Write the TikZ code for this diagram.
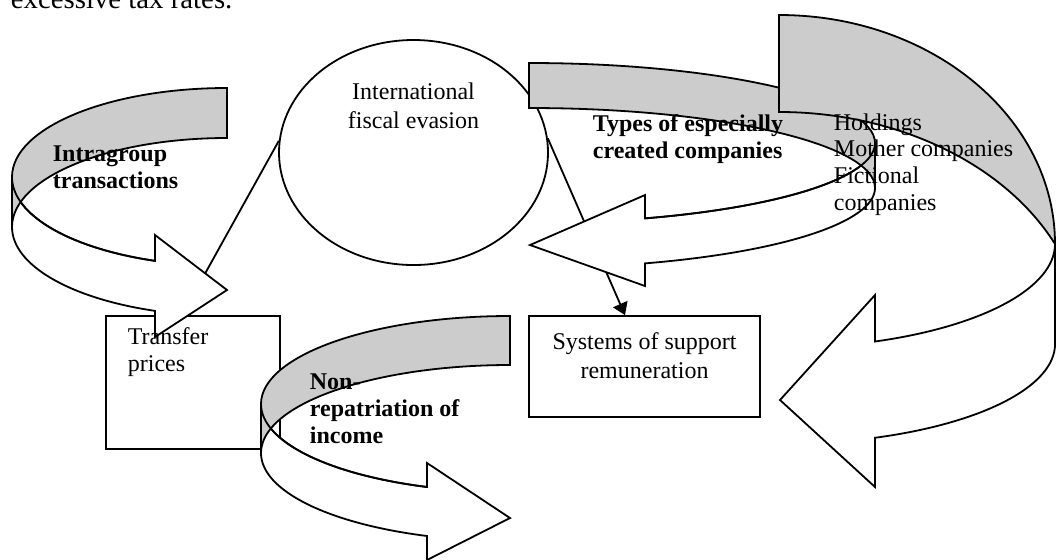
\documentclass[tikz,border=0pt]{standalone}
\usepackage{fontspec}
\setmainfont{Liberation Serif}
\usetikzlibrary{arrows.meta,shapes.geometric}
\definecolor{bandgray}{gray}{0.8}
\newcommand\pxs{0.4167pt}
\begin{document}
\begin{tikzpicture}[x=0.4167pt, y=-0.4167pt, line width=0.75pt,
  frontband/.style={draw=black, fill=white, line join=miter},
  backband/.style={draw=black, fill=bandgray, line join=miter},
  lbl/.style={font=\fontsize{10}{11.1}\selectfont, inner sep=0pt, align=left, anchor=base west},
  blbl/.style={lbl, font=\fontsize{10}{11.1}\selectfont\bfseries},
  boxshape/.style={draw=black, rectangle, inner sep=0pt},
  conn/.style={draw=black, line width=0.75pt}]
\useasboundingbox (0,0) rectangle (1056,559);

\node[anchor=base west, inner sep=0pt, font=\fontsize{12}{14}\selectfont] (bodytext) at (10,8) {excessive tax rates.};

% main shapes
\node[draw=black, ellipse, minimum width=269*\pxs, minimum height=225*\pxs, inner sep=0pt] (ife) at (413.5,152.5) {};
\node[boxshape, minimum width=174*\pxs, minimum height=133*\pxs] (tp) at (193,382.5) {};
\node[boxshape, minimum width=231*\pxs, minimum height=101*\pxs] (srs) at (644.5,366.5) {};

% connectors
\draw[conn] (ife.175) -- ([xshift=-11*\pxs]tp.north);
\draw[conn, -{Triangle[length=5pt, width=6.5pt]}] (ife.6) -- ([xshift=-19.5*\pxs]srs.north);

% Intragroup transactions arrow
\draw[frontband] (12,177) arc[start angle=180, end angle=109.57, x radius=215, y radius=89]
  -- (155,235) -- (227,290) -- (155,337) -- (155,310.86)
  arc[start angle=109.57, end angle=180, x radius=215, y radius=89] -- cycle;
\draw[backband] (12,177) arc[start angle=180, end angle=270, x radius=215, y radius=89]
  -- (227,138) arc[start angle=270, end angle=180, x radius=215, y radius=89] -- cycle;
\draw (12,177) arc[start angle=180, end angle=109.57, x radius=215, y radius=89];

% Non-repatriation arrow
\draw[frontband] (261,404) arc[start angle=180, end angle=109.47, x radius=249, y radius=88]
  -- (427,463) -- (510,518) -- (427,560) -- (427,535.97)
  arc[start angle=109.47, end angle=180, x radius=249, y radius=88] -- cycle;
\draw[backband] (261,404) arc[start angle=180, end angle=270, x radius=249, y radius=88]
  -- (510,365) arc[start angle=270, end angle=180, x radius=249, y radius=88] -- cycle;
\draw (261,404) arc[start angle=180, end angle=109.47, x radius=249, y radius=88];

% Types arrow
\draw[frontband] (875,143) arc[start angle=0, end angle=70.41, x radius=346, y radius=80]
  -- (645,195) -- (530,245) -- (645,286) -- (645,263.37)
  arc[start angle=70.41, end angle=0, x radius=346, y radius=80] -- cycle;
\draw[backband] (875,143) arc[start angle=0, end angle=-90, x radius=346, y radius=80]
  -- (529,108) arc[start angle=-90, end angle=0, x radius=346, y radius=80] -- cycle;
\draw (875,143) arc[start angle=0, end angle=70.41, x radius=346, y radius=80];

% Holdings arrow
\draw[frontband] (1055,244) arc[start angle=0, end angle=69.65, x radius=276, y radius=104]
  -- (875,295) -- (780,400) -- (875,487) -- (875,437.76)
  arc[start angle=69.65, end angle=0, x radius=276, y radius=100] -- cycle;
\draw[backband] (779,15) arc[start angle=-90, end angle=0, x radius=276, y radius=229]
  arc[start angle=-25.53, end angle=-90, x radius=306, y radius=232] -- cycle;

% texts (anchor = baseline of the last line)
\node[lbl, align=center, anchor=base, font=\fontsize{10}{11.7}\selectfont] (ifetext) at (413.5,128) {International\\fiscal evasion};
\node[blbl, font=\fontsize{10}{11.25}\selectfont\bfseries] (intratext) at (52,188) {Intragroup\\transactions};
\node[blbl] (typestext) at (592,158) {Types of especially\\created companies};
\node[lbl] (holdtext) at (833,210) {Holdings\\Mother companies\\Fictional\\companies};
\node[blbl] (nontext) at (309,443) {Non-\\repatriation of\\income};
\node[lbl, font=\fontsize{10}{11.25}\selectfont] (tptext) at (127,371) {Transfer\\prices};
\node[lbl, align=center, anchor=base, font=\fontsize{10}{12}\selectfont] (srstext) at (644.5,378) {Systems of support\\remuneration};
\end{tikzpicture}
\end{document}
